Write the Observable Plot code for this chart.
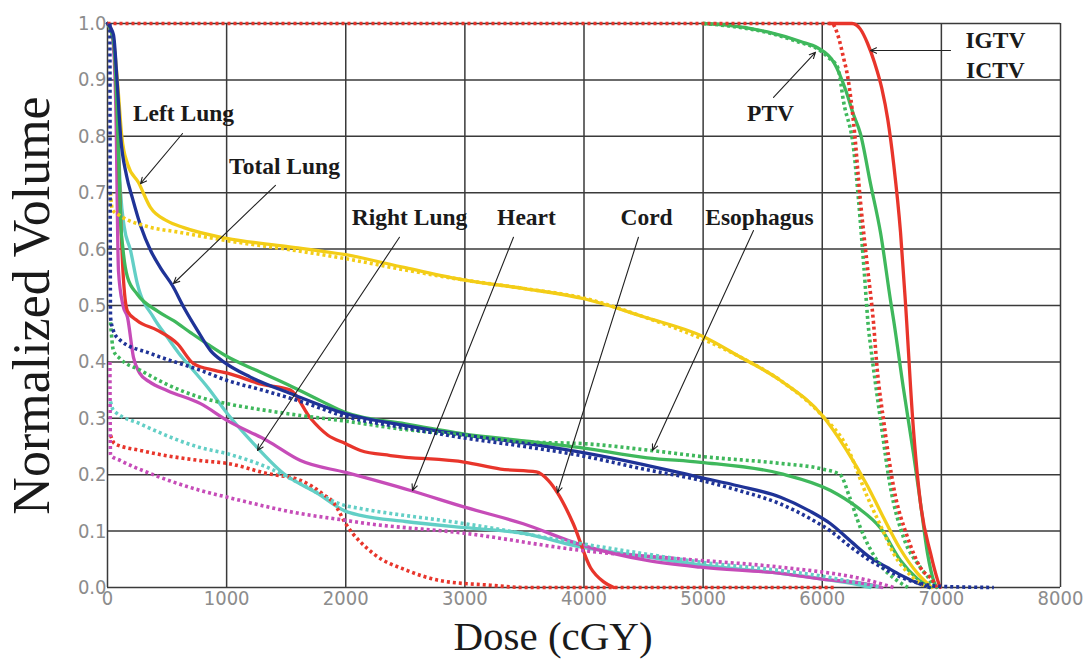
<!DOCTYPE html>
<html>
<head>
<meta charset="utf-8">
<script src="https://cdn.jsdelivr.net/npm/d3@7"></script>
<script src="https://cdn.jsdelivr.net/npm/@observablehq/plot@0.6"></script>
<style>
  html, body { margin: 0; padding: 0; background: #ffffff; }
  #chart { width: 1083px; height: 661px; }
</style>
</head>
<body>
<div id="chart"></div>
<script>
// ---- Tick values ----
const xTicks = [0, 1000, 2000, 3000, 4000, 5000, 6000, 7000, 8000];
const yTicks = [0, 0.1, 0.2, 0.3, 0.4, 0.5, 0.6, 0.7, 0.8, 0.9, 1.0];

// ---- DVH curves: [dose (cGy), normalized volume] ----
const leftLungSolid = [[0,1],[50,0.97],[90,0.88],[120,0.8],[170,0.75],[260,0.718],[360,0.674],[500,0.65],[640,0.638],[1000,0.619],[1500,0.605],[2000,0.59],[2500,0.567],[3000,0.545],[3500,0.53],[4000,0.512],[4500,0.48],[5000,0.445],[5300,0.41],[5650,0.367],[6000,0.305],[6200,0.245],[6380,0.18],[6500,0.13],[6650,0.07],[6800,0.025],[6920,0]];
const leftLungDotted = [[25,0.7],[40,0.67],[100,0.66],[335,0.64],[600,0.63],[1000,0.615],[1500,0.6],[2000,0.583],[2500,0.563],[3000,0.545],[3500,0.53],[4000,0.513],[4500,0.48],[5000,0.44],[5300,0.41],[5650,0.367],[5985,0.308],[6210,0.248],[6380,0.16],[6500,0.105],[6600,0.06],[6750,0.02],[6880,0]];

const totalLungSolid = [[0,1],[50,0.98],[80,0.9],[110,0.8],[160,0.73],[210,0.69],[280,0.64],[361,0.598],[450,0.565],[546,0.535],[640,0.497],[755,0.456],[865,0.42],[975,0.4],[1200,0.373],[1536,0.344],[2000,0.308],[2500,0.287],[3005,0.27],[3500,0.256],[3970,0.24],[4500,0.218],[4980,0.195],[5300,0.18],[5650,0.16],[5900,0.135],[6070,0.113],[6250,0.08],[6405,0.053],[6550,0.035],[6660,0.022],[6800,0.008],[6900,0]];
const totalLungDotted = [[20,1],[25,0.48],[50,0.455],[109,0.438],[360,0.415],[781,0.385],[1007,0.367],[1300,0.35],[1620,0.33],[2000,0.303],[2500,0.283],[3000,0.265],[3500,0.25],[3970,0.234],[4500,0.21],[4980,0.19],[5300,0.172],[5650,0.148],[5900,0.122],[6070,0.1],[6250,0.07],[6400,0.048],[6550,0.03],[6700,0.015],[6825,0.007],[7000,0.002],[7440,0]];

const rightLungSolid = [[0,1],[50,0.97],[80,0.85],[110,0.7],[140,0.64],[193,0.598],[250,0.539],[386,0.479],[504,0.443],[600,0.415],[700,0.39],[840,0.355],[1007,0.308],[1226,0.255],[1478,0.202],[1763,0.167],[2000,0.135],[2124,0.128],[2500,0.117],[3005,0.106],[3490,0.096],[3970,0.072],[4500,0.055],[4980,0.04],[5650,0.025],[6000,0.015],[6300,0.005],[6400,0]];
const rightLungDotted = [[25,0.33],[50,0.314],[277,0.29],[781,0.248],[1007,0.237],[1343,0.213],[1620,0.184],[2000,0.145],[2124,0.14],[3005,0.113],[3970,0.078],[4500,0.06],[4980,0.045],[5650,0.03],[6000,0.02],[6300,0.008],[6500,0]];

const heartSolid = [[0,1],[40,0.98],[70,0.85],[92,0.562],[130,0.5],[168,0.479],[218,0.408],[270,0.38],[350,0.365],[504,0.349],[781,0.326],[1007,0.296],[1343,0.26],[1620,0.225],[2000,0.204],[2544,0.172],[3005,0.142],[3490,0.113],[3970,0.076],[4530,0.048],[4980,0.036],[5650,0.025],[6000,0.015],[6400,0.005],[6500,0]];
const heartDotted = [[20,0.4],[25,0.235],[109,0.225],[360,0.202],[781,0.172],[1007,0.16],[1620,0.131],[2000,0.119],[2124,0.115],[3005,0.096],[3970,0.066],[4980,0.048],[5650,0.036],[6400,0.012],[6600,0]];

const cordSolid = [[0,1],[50,0.97],[80,0.85],[100,0.72],[110,0.66],[130,0.56],[168,0.49],[250,0.473],[420,0.456],[588,0.432],[722,0.397],[900,0.385],[1007,0.38],[1300,0.36],[1536,0.35],[1704,0.3],[1850,0.27],[2000,0.255],[2124,0.243],[2375,0.234],[3005,0.222],[3300,0.21],[3600,0.205],[3700,0.19],[3780,0.167],[3910,0.113],[4055,0.035],[4165,0.01],[4250,0]];
const cordDotted = [[25,0.27],[60,0.255],[277,0.243],[781,0.225],[1007,0.22],[1343,0.202],[1620,0.19],[1813,0.165],[1900,0.15],[2000,0.113],[2233,0.06],[2518,0.03],[2800,0.012],[3215,0.004],[3500,0],[6100,0]];

const esophagusSolid = [[0,1],[50,0.97],[80,0.85],[100,0.72],[109,0.656],[130,0.6],[168,0.55],[250,0.52],[420,0.49],[555,0.473],[697,0.452],[850,0.43],[1000,0.41],[1250,0.385],[1511,0.36],[1800,0.33],[2000,0.31],[2500,0.29],[3000,0.272],[3500,0.26],[3970,0.248],[4530,0.23],[4980,0.222],[5650,0.202],[6070,0.172],[6295,0.142],[6490,0.105],[6657,0.048],[6800,0.015],[6900,0]];
const esophagusDotted = [[25,0.47],[50,0.42],[110,0.405],[277,0.385],[500,0.36],[781,0.337],[1000,0.326],[1300,0.315],[1620,0.305],[2000,0.295],[2500,0.28],[3000,0.27],[3525,0.258],[4000,0.255],[4560,0.243],[5000,0.232],[5650,0.22],[6000,0.21],[6150,0.2],[6230,0.16],[6320,0.106],[6460,0.048],[6630,0.012],[6720,0]];

const ptvSolid = [[5000,1],[5200,0.997],[5540,0.985],[5818,0.968],[5960,0.957],[6100,0.93],[6200,0.88],[6260,0.84],[6320,0.805],[6405,0.716],[6490,0.628],[6573,0.509],[6600,0.473],[6680,0.355],[6766,0.237],[6825,0.149],[6884,0.06],[6935,0.012],[6960,0]];
const ptvDotted = [[5000,1],[5200,0.996],[5540,0.984],[5818,0.966],[5960,0.955],[6050,0.94],[6130,0.922],[6180,0.86],[6265,0.775],[6305,0.686],[6350,0.567],[6390,0.456],[6405,0.43],[6490,0.296],[6573,0.177],[6682,0.089],[6825,0.035],[6910,0.01],[6930,0]];

const igtvSolid = [[6060,1],[6250,1],[6320,0.99],[6380,0.965],[6440,0.93],[6500,0.885],[6550,0.83],[6600,0.75],[6657,0.63],[6700,0.5],[6760,0.296],[6825,0.149],[6910,0.06],[6970,0.012],[6990,0]];
const igtvDotted = [[0,1],[2000,1],[4000,1],[5500,1],[6080,1],[6130,0.98],[6180,0.938],[6210,0.91],[6265,0.82],[6320,0.686],[6380,0.567],[6430,0.47],[6460,0.39],[6515,0.296],[6600,0.177],[6716,0.089],[6825,0.035],[6935,0.01],[6960,0]];

// ---- Structures and colours ----
const structures = ["Left Lung", "Total Lung", "Right Lung", "Heart", "Cord", "Esophagus", "PTV", "IGTV/ICTV"];
const structureColors = ["#f3cd17", "#1f3397", "#63cfc6", "#c64cb8", "#e8352b", "#3fb85c", "#3fb85c", "#e8352b"];

// ---- Annotations ----
const labelText = ["Left Lung", "Total Lung", "Right Lung", "Heart", "Cord", "Esophagus", "PTV", "IGTV", "ICTV"];
const labelDose = [638, 1486, 2535, 3517, 4525, 5473, 5566, 7454, 7454];
const labelVol = [0.828, 0.734, 0.642, 0.642, 0.642, 0.642, 0.828, 0.956, 0.904];

const arrowDoseFrom = [630, 1410, 2451, 3408, 4457, 5423, 5591, 7077];
const arrowVolFrom = [0.805, 0.713, 0.621, 0.621, 0.621, 0.633, 0.869, 0.952];
const arrowDoseTo = [277, 554, 1259, 2560, 3778, 4575, 5943, 6405];
const arrowVolTo = [0.716, 0.539, 0.243, 0.172, 0.168, 0.243, 0.949, 0.952];

// ---- Build tables ----
function rows(arr, structure) { return arr.map(([dose, vol]) => ({structure, dose, vol})); }
const solidRows = [
  ...rows(leftLungSolid, "Left Lung"), ...rows(rightLungSolid, "Right Lung"),
  ...rows(heartSolid, "Heart"), ...rows(cordSolid, "Cord"),
  ...rows(esophagusSolid, "Esophagus"), ...rows(totalLungSolid, "Total Lung"),
  ...rows(ptvSolid, "PTV"), ...rows(igtvSolid, "IGTV/ICTV")
];
const dottedRows = [
  ...rows(leftLungDotted, "Left Lung"), ...rows(cordDotted, "Cord"),
  ...rows(rightLungDotted, "Right Lung"), ...rows(esophagusDotted, "Esophagus"),
  ...rows(heartDotted, "Heart"), ...rows(ptvDotted, "PTV"),
  ...rows(igtvDotted, "IGTV/ICTV"), ...rows(totalLungDotted, "Total Lung")
];
const labels = labelText.map((t, i) => ({t, x: labelDose[i], y: labelVol[i]}));
const arrows = arrowDoseFrom.map((d, i) => ({x1: d, y1: arrowVolFrom[i], x2: arrowDoseTo[i], y2: arrowVolTo[i]}));

const tickFont = "'Liberation Sans Narrow', 'Arial Narrow', 'DejaVu Sans Condensed', sans-serif";
const serif = "'Liberation Serif', 'DejaVu Serif', serif";

const chart = Plot.plot({
  width: 1083,
  height: 661,
  marginLeft: 107,
  marginRight: 23,
  marginTop: 23,
  marginBottom: 74,
  style: {background: "#ffffff", overflow: "visible"},
  x: {domain: [0, 8000]},
  y: {domain: [0, 1]},
  color: {domain: structures, range: structureColors},
  marks: [
    Plot.gridX(xTicks, {stroke: "#3a3a3a", strokeOpacity: 1, strokeWidth: 1.5}),
    Plot.gridY(yTicks, {stroke: "#3a3a3a", strokeOpacity: 1, strokeWidth: 1.5}),
    Plot.axisX(xTicks, {tickSize: 0, tickPadding: 3, tickFormat: d3.format("d"), fontSize: 20, fill: "#8c8c8c", fontFamily: tickFont, label: null}),
    Plot.axisY(yTicks, {tickSize: 0, tickPadding: 1, tickFormat: d3.format(".1f"), fontSize: 20, fill: "#8c8c8c", fontFamily: tickFont, label: null}),
    Plot.line(solidRows, {x: "dose", y: "vol", z: "structure", stroke: "structure", strokeWidth: 3.3, curve: "monotone-x"}),
    Plot.line(dottedRows, {x: "dose", y: "vol", z: "structure", stroke: "structure", strokeWidth: 3.6, strokeDasharray: "3,3", strokeLinecap: "butt", strokeLinejoin: "miter", curve: "monotone-x"}),
    Plot.arrow(arrows, {x1: "x1", y1: "y1", x2: "x2", y2: "y2", stroke: "#222", strokeWidth: 1.1, headLength: 9, headAngle: 50}),
    Plot.text(labels, {x: "x", y: "y", text: "t", lineAnchor: "bottom", fontSize: 23.5, fontWeight: "bold", fontFamily: serif, fill: "#1a1a1a"}),
    Plot.text(["Dose (cGY)"], {frameAnchor: "bottom", dx: -31, dy: 62, textAnchor: "middle", lineAnchor: "bottom", fontSize: 41, fontFamily: serif, fill: "#1a1a1a"}),
    Plot.text(["Normalized Volume"], {frameAnchor: "left", dx: -75, rotate: -90, textAnchor: "middle", lineAnchor: "middle", fontSize: 52, fontFamily: serif, fill: "#1a1a1a"})
  ]
});
document.getElementById("chart").appendChild(chart);
</script>
</body>
</html>
